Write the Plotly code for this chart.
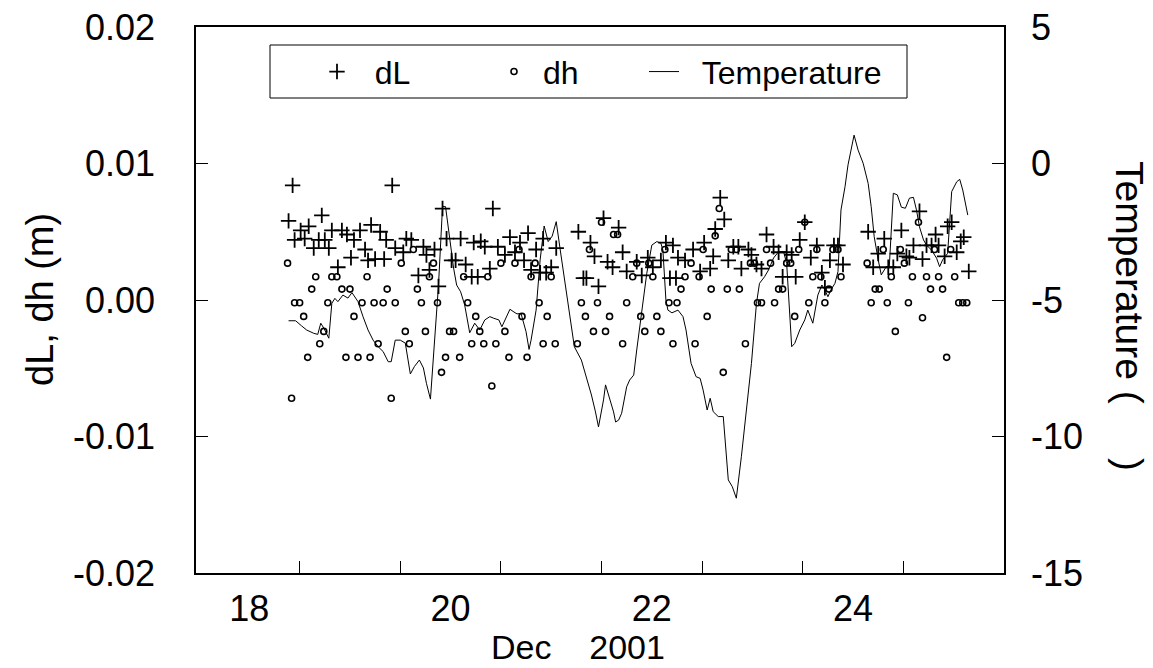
import plotly.graph_objects as go

# ---------------- data ----------------
# dL : crosses, time in days of Dec 2001
dL_day = [18.39, 18.43, 18.45, 18.51, 18.55, 18.59, 18.64, 18.69, 18.72, 18.75,
          18.79, 18.82, 18.88, 18.92, 18.97, 19.01, 19.04, 19.10, 19.15, 19.18,
          19.21, 19.25, 19.30, 19.34, 19.36, 19.42, 19.45, 19.53, 19.56, 19.61,
          19.68, 19.73, 19.76, 19.79, 19.84, 19.88, 19.92, 19.96, 20.01, 20.05,
          20.10, 20.15, 20.21, 20.23, 20.27, 20.30, 20.34, 20.39, 20.42, 20.47,
          20.54, 20.59, 20.64, 20.69, 20.73, 20.77, 20.80, 20.85, 20.89, 20.92,
          20.95, 21.00, 21.05, 21.27, 21.32, 21.35, 21.39, 21.43, 21.47, 21.52,
          21.56, 21.61, 21.67, 21.71, 21.75, 21.85, 21.90, 21.96, 22.01, 22.09,
          22.14, 22.18, 22.21, 22.24, 22.26, 22.33, 22.41, 22.48, 22.52, 22.58,
          22.61, 22.63, 22.68, 22.72, 22.76, 22.81, 22.86, 22.89, 22.96, 22.99,
          23.04, 23.09, 23.14, 23.21, 23.26, 23.30, 23.34, 23.39, 23.43, 23.47,
          23.52, 23.58, 23.64, 23.69, 23.72, 23.77, 23.81, 23.85, 23.90, 24.15,
          24.20, 24.25, 24.31, 24.35, 24.40, 24.44, 24.48, 24.53, 24.56, 24.60,
          24.66, 24.69, 24.73, 24.78, 24.82, 24.85, 24.91, 24.94, 24.98, 25.03,
          25.07, 25.10, 25.15]
dL_val = [0.0058, 0.0084, 0.0044, 0.0051, 0.0045, 0.0054, 0.0038, 0.0044, 0.0062, 0.0044,
          0.0038, 0.0051, 0.0024, 0.0051, 0.0048, 0.0031, 0.0044, 0.0051, 0.0037, 0.0029,
          0.0055, 0.0030, 0.0050, 0.0030, 0.0044, 0.0084, 0.0038, 0.0035, 0.0045, 0.0044,
          0.0018, 0.0039, 0.0033, 0.0022, 0.0037, 0.0010, 0.0067, 0.0045, 0.0029, 0.0029,
          0.0045, 0.0026, 0.0017, 0.0042, 0.0017, 0.0043, 0.0039, 0.0023, 0.0067, 0.0039,
          0.0033, 0.0046, 0.0035, 0.0042, 0.0029, 0.0049, 0.0022, 0.0037, 0.0020, 0.0045,
          0.0020, 0.0024, 0.0038, 0.0050, 0.0016, 0.0016, 0.0042, 0.0032, 0.0010, 0.0060,
          0.0028, 0.0024, 0.0053, 0.0035, 0.0021, 0.0028, 0.0018, 0.0031, 0.0024, 0.0029,
          0.0042, 0.0016, 0.0040, 0.0016, 0.0031, 0.0029, 0.0037, 0.0021, 0.0042, 0.0023,
          0.0032, 0.0052, 0.0075, 0.0059, 0.0029, 0.0039, 0.0039, 0.0023, 0.0037, 0.0033,
          0.0026, 0.0023, 0.0048, 0.0039, 0.0035, 0.0017, 0.0035, 0.0033, 0.0017, 0.0044,
          0.0057, 0.0031, 0.0040, 0.0020, 0.0009, 0.0029, 0.0040, 0.0040, 0.0026, 0.0050,
          0.0024, 0.0034, 0.0045, 0.0024, 0.0024, 0.0034, 0.0051, 0.0032, 0.0031, 0.0040,
          0.0065, 0.0030, 0.0040, 0.0040, 0.0048, 0.0040, 0.0032, 0.0054, 0.0057, 0.0035,
          0.0043, 0.0046, 0.0021]

# dh : open circles
dh_day = [18.38, 18.42, 18.45, 18.50, 18.54, 18.58, 18.62, 18.66, 18.70, 18.74,
          18.78, 18.82, 18.87, 18.92, 18.96, 19.00, 19.04, 19.08, 19.12, 19.17,
          19.20, 19.24, 19.28, 19.33, 19.37, 19.41, 19.45, 19.51, 19.55, 19.59,
          19.63, 19.67, 19.71, 19.75, 19.79, 19.83, 19.87, 19.91, 19.95, 19.99,
          20.03, 20.09, 20.13, 20.17, 20.21, 20.25, 20.29, 20.33, 20.37, 20.41,
          20.45, 20.50, 20.54, 20.58, 20.64, 20.68, 20.71, 20.76, 20.80, 20.84,
          20.88, 20.92, 20.96, 21.00, 21.04, 21.26, 21.30, 21.34, 21.38, 21.42,
          21.46, 21.50, 21.54, 21.58, 21.62, 21.66, 21.71, 21.75, 21.81, 21.85,
          21.89, 21.93, 21.97, 22.01, 22.05, 22.09, 22.13, 22.17, 22.21, 22.25,
          22.29, 22.33, 22.39, 22.43, 22.47, 22.51, 22.55, 22.59, 22.63, 22.67,
          22.71, 22.75, 22.79, 22.84, 22.87, 22.93, 22.98, 23.02, 23.05, 23.09,
          23.14, 23.18, 23.22, 23.26, 23.30, 23.34, 23.38, 23.42, 23.46, 23.52,
          23.56, 23.60, 23.64, 23.68, 23.72, 23.76, 23.80, 23.85, 23.88, 24.14,
          24.18, 24.22, 24.26, 24.30, 24.34, 24.38, 24.42, 24.47, 24.51, 24.55,
          24.59, 24.65, 24.69, 24.73, 24.77, 24.81, 24.85, 24.89, 24.93, 24.97,
          25.01, 25.05, 25.09, 25.13]
dh_val = [0.0027, -0.0072, -0.0002, -0.0002, -0.0012, -0.0042, 0.0008, 0.0017, -0.0032, -0.0023,
          -0.0002, 0.0017, 0.0017, 0.0008, -0.0042, 0.0008, -0.0012, -0.0042, -0.0002, 0.0017,
          -0.0042, -0.0002, -0.0032, -0.0002, 0.0008, -0.0072, -0.0002, 0.0027, -0.0023, -0.0032,
          0.0037, 0.0008, -0.0002, -0.0023, 0.0017, 0.0027, -0.0002, -0.0053, -0.0042, -0.0023,
          -0.0023, -0.0042, 0.0017, -0.0002, -0.0032, -0.0012, -0.0023, -0.0032, 0.0017, -0.0063,
          -0.0032, 0.0027, -0.0023, -0.0042, 0.0027, 0.0037, -0.0012, -0.0042, 0.0017, 0.0027,
          -0.0002, -0.0032, -0.0012, 0.0017, -0.0032, -0.0032, -0.0002, -0.0012, 0.0037, -0.0023,
          -0.0002, 0.0057, -0.0023, -0.0012, 0.0048, 0.0048, -0.0032, -0.0002, 0.0017, 0.0027,
          -0.0012, -0.0023, 0.0027, 0.0017, -0.0012, -0.0023, 0.0037, -0.0002, -0.0032, -0.0002,
          0.0008, 0.0017, 0.0027, -0.0032, 0.0017, 0.0037, -0.0012, 0.0008, 0.0047, 0.0067,
          -0.0053, 0.0008, 0.0037, 0.0037, 0.0008, -0.0032, 0.0027, 0.0027, -0.0002, -0.0002,
          0.0037, 0.0027, -0.0002, 0.0008, 0.0008, 0.0027, 0.0027, -0.0012, 0.0037, 0.0057,
          -0.0002, 0.0017, 0.0037, 0.0017, -0.0002, 0.0008, 0.0037, 0.0037, 0.0017, 0.0027,
          -0.0002, 0.0008, 0.0008, 0.0037, -0.0002, 0.0017, -0.0023, 0.0037, 0.0027, -0.0002,
          0.0017, 0.0057, -0.0013, 0.0017, 0.0008, 0.0037, 0.0017, 0.0008, -0.0042, 0.0037,
          0.0017, -0.0002, -0.0002, -0.0002]

# Temperature : thin line on the right axis
temp_day = [18.39, 18.46, 18.52, 18.57, 18.64, 18.68, 18.71, 18.74, 18.79, 18.82,
            18.85, 18.88, 18.93, 18.98, 19.02, 19.08, 19.13, 19.18, 19.23, 19.28,
            19.33, 19.38, 19.41, 19.45, 19.50, 19.55, 19.60, 19.64, 19.69, 19.73,
            19.76, 19.80, 19.88, 19.92, 19.95, 19.99, 20.03, 20.06, 20.10, 20.14,
            20.18, 20.19, 20.24, 20.29, 20.34, 20.39, 20.43, 20.48, 20.51, 20.56,
            20.59, 20.63, 20.66, 20.70, 20.75, 20.78, 20.80, 20.85, 20.89, 20.93,
            20.97, 21.01, 21.05, 21.09, 21.14, 21.18, 21.23, 21.30, 21.35, 21.40,
            21.44, 21.47, 21.52, 21.54, 21.57, 21.62, 21.64, 21.67, 21.70, 21.75,
            21.78, 21.82, 21.85, 21.90, 21.95, 22.00, 22.05, 22.09, 22.11, 22.14,
            22.16, 22.20, 22.26, 22.31, 22.34, 22.39, 22.44, 22.48, 22.51, 22.55,
            22.58, 22.61, 22.66, 22.71, 22.76, 22.80, 22.84, 22.89, 22.94, 22.99,
            23.04, 23.07, 23.12, 23.16, 23.21, 23.26, 23.31, 23.34, 23.39, 23.42,
            23.47, 23.52, 23.55, 23.60, 23.65, 23.69, 23.72, 23.75, 23.78, 23.82,
            23.85, 23.88, 23.92, 23.95, 24.01, 24.05, 24.10, 24.15, 24.18, 24.21,
            24.25, 24.28, 24.33, 24.36, 24.40, 24.44, 24.48, 24.52, 24.56, 24.60,
            24.63, 24.66, 24.70, 24.73, 24.78, 24.83, 24.86, 24.89, 24.94, 24.98,
            25.03, 25.06, 25.09, 25.14]
temp_val = [-5.76, -5.76, -5.95, -6.10, -6.22, -6.26, -5.85, -6.03, -6.40, -5.12,
            -4.94, -5.06, -4.82, -4.93, -4.73, -5.06, -5.61, -6.10, -6.47, -6.71,
            -6.89, -7.26, -7.26, -6.47, -6.47, -6.58, -7.71, -7.44, -7.20, -7.49,
            -8.05, -8.63, -4.45, -1.58, -1.58, -2.80, -3.83, -4.45, -4.70, -5.18,
            -5.92, -6.20, -5.85, -6.10, -5.73, -5.61, -5.67, -5.73, -5.98, -5.55,
            -5.34, -5.44, -5.51, -5.49, -6.16, -6.81, -6.47, -5.37, -3.53, -2.29,
            -2.86, -2.66, -2.13, -3.17, -4.39, -5.37, -6.71, -7.20, -7.81, -8.48,
            -9.10, -9.65, -8.66, -8.11, -8.48, -9.10, -9.47, -9.40, -9.15, -8.18,
            -7.93, -7.75, -6.83, -5.37, -4.02, -2.99, -2.86, -2.92, -3.17, -5.00,
            -5.37, -5.47, -5.37, -5.61, -6.10, -7.32, -7.81, -7.87, -8.30, -9.03,
            -8.60, -9.09, -9.27, -9.27, -11.59, -11.84, -12.26, -10.74, -8.99, -7.32,
            -5.12, -4.39, -4.15, -3.90, -3.46, -3.23, -3.24, -3.66, -6.71, -6.59,
            -6.10, -5.73, -5.37, -5.85, -4.82, -4.45, -4.63, -4.88, -4.63, -4.39,
            -3.96, -1.70, -0.85, -0.05, 1.04, 0.49, 0.01, -0.73, -1.58, -2.68,
            -3.53, -4.08, -3.78, -3.78, -1.09, -1.15, -1.60, -1.64, -1.27, -1.24,
            -1.70, -2.32, -2.80, -2.99, -3.17, -3.47, -3.78, -3.53, -3.29, -1.03,
            -0.67, -0.58, -0.97, -1.89]

# axis ticks / labels
x_label_vals = [18, 20, 22, 24]
x_label_text = ["18", "20", "22", "24"]
x_minor_vals = [18.5, 19.5, 20.5, 21.5, 22.5, 23.5, 24.5]
y_left_vals = [-0.02, -0.01, 0.0, 0.01, 0.02]
y_left_text = ["-0.02", "-0.01", "0.00", "0.01", "0.02"]
y_right_vals = [-15, -10, -5, 0, 5]
y_right_text = ["-15", "-10", "-5", "0", "5"]

FONT = "Liberation Sans, Arial, Helvetica, sans-serif"
FS = 36
NB = "\u00a0"

fig = go.Figure()
fig.add_trace(go.Scatter(
    x=dL_day, y=dL_val, mode="markers", name=NB * 2 + "dL", legendwidth=132,
    marker=dict(symbol="cross-thin", size=11, color="black",
                line=dict(color="black", width=1.8)),
))
fig.add_trace(go.Scatter(
    x=dh_day, y=dh_val, mode="markers", name=NB + "dh", legendwidth=105,
    marker=dict(symbol="circle-open", size=6, color="black",
                line=dict(color="black", width=1.6)),
))
fig.add_trace(go.Scatter(
    x=temp_day, y=temp_val, mode="lines", name=NB * 2 + "Temperature", yaxis="y2",
    legendwidth=300,
    line=dict(color="black", width=1),
))

axis_common = dict(showline=True, linecolor="black", linewidth=1.5,
                   showgrid=False, zeroline=False, automargin=False,
                   tickfont=dict(family=FONT, size=FS, color="black"))

fig.update_layout(
    width=1153, height=668,
    margin=dict(l=196, r=149, t=27, b=95),
    paper_bgcolor="white", plot_bgcolor="white",
    font=dict(family=FONT, size=FS, color="black"),
    showlegend=True,
    legend=dict(orientation="h", x=(317 - 196) / 808, y=0.918,
                xanchor="left", yanchor="middle",
                bgcolor="rgba(0,0,0,0)", borderwidth=0,
                font=dict(family=FONT, size=32, color="black")),
    xaxis=dict(range=[17.47, 25.5], mirror=True,
               tickmode="array", tickvals=x_label_vals, ticktext=x_label_text,
               ticks="", ticklabelstandoff=3,
               minor=dict(tickmode="array", tickvals=x_minor_vals, ticks="inside",
                          ticklen=12, tickcolor="black", tickwidth=1),
               **axis_common),
    yaxis=dict(range=[-0.02, 0.02], mirror=True,
               tickmode="array", tickvals=y_left_vals, ticktext=y_left_text,
               ticks="inside", ticklen=12, tickcolor="black", ticklabelstandoff=32,
               **axis_common),
    yaxis2=dict(range=[-15, 5], overlaying="y", side="right",
                tickmode="array", tickvals=y_right_vals, ticktext=y_right_text,
                ticks="inside", ticklen=12, tickcolor="black", ticklabelstandoff=18,
                **axis_common),
    shapes=[dict(type="rect", xref="paper", yref="paper",
                 x0=(270 - 196) / 808, x1=(907 - 196) / 808,
                 y0=(573 - 98) / 546, y1=(573 - 45) / 546,
                 line=dict(color="black", width=1), fillcolor="rgba(0,0,0,0)")],
    annotations=[
        dict(text="dL, dh (m)", textangle=-90,
             xref="paper", yref="paper", x=(40 - 196) / 808, y=(573 - 300) / 546,
             xanchor="center", yanchor="middle", showarrow=False,
             font=dict(family=FONT, size=38, color="black")),
        dict(text="Temperature (" + NB * 5 + ")", textangle=90,
             xref="paper", yref="paper", x=(1130 - 196) / 808, y=(573 - 316) / 546,
             xanchor="center", yanchor="middle", showarrow=False,
             font=dict(family=FONT, size=39, color="black")),
        dict(text="Dec" + NB * 4 + "2001",
             xref="paper", yref="paper", x=(578 - 196) / 808, y=(573 - 647) / 546,
             xanchor="center", yanchor="middle", showarrow=False,
             font=dict(family=FONT, size=34, color="black")),
    ],
)

fig.write_html("out.html")
